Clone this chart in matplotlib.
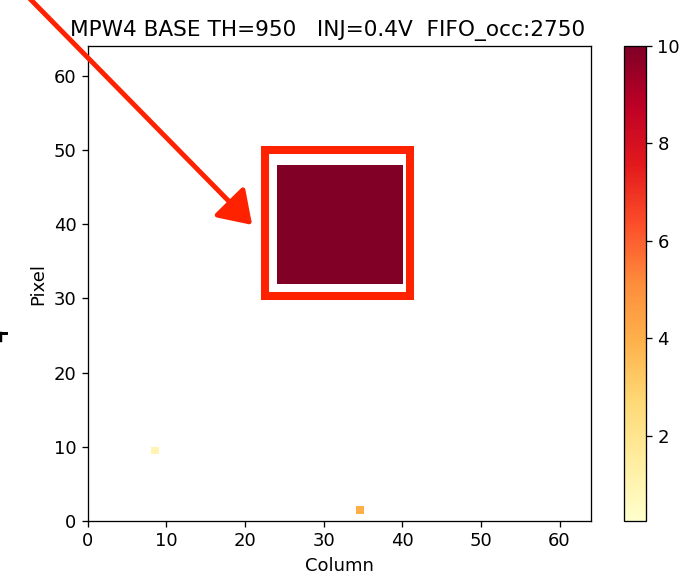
import numpy as np
import matplotlib
matplotlib.use("Agg")
import matplotlib.pyplot as plt
from matplotlib.patches import Rectangle

# hit map: 64 columns x 64 pixels, zeros are shown empty
n_cols, n_rows = 64, 64
block_cols = (24, 40)   # injected block, column range
block_rows = (32, 48)   # injected block, pixel range
block_value = 10
stray_hits = [(8, 9, 1.0), (34, 1, 4.0)]   # (column, pixel, value)
vmin, vmax = 0.25, 10
cbar_ticks = [2, 4, 6, 8, 10]

title = "MPW4 BASE TH=950   INJ=0.4V  FIFO_occ:2750"

hits = np.zeros((n_rows, n_cols))
hits[block_rows[0]:block_rows[1], block_cols[0]:block_cols[1]] = block_value
for c, r, v in stray_hits:
    hits[r, c] = v
hits = np.ma.masked_equal(hits, 0)

plt.rcParams["font.size"] = 11
dpi = 118
fig = plt.figure(figsize=(686 / dpi, 576 / dpi), dpi=dpi)
ax = fig.add_axes([0.128, 0.0955, 0.7335, 0.8245])
cax = fig.add_axes([0.9096, 0.0955, 0.032, 0.8245])

im = ax.imshow(hits, cmap="YlOrRd", origin="lower", aspect="auto",
               extent=(0, n_cols, 0, n_rows), vmin=vmin, vmax=vmax,
               interpolation="nearest")
ax.set_xlim(0, n_cols)
ax.set_ylim(0, n_rows)
ax.set_xticks(range(0, 61, 10))
ax.set_yticks(range(0, 61, 10))
ax.set_xlabel("Column")
ax.set_ylabel("Pixel")
ax.set_title(title, fontsize=13.2, x=0.477)

cb = fig.colorbar(im, cax=cax)
cb.set_ticks(cbar_ticks)

# red highlight around the injected block
ax.add_patch(Rectangle((22.5, 30.3), 18.5, 19.7, fill=False,
                       edgecolor="#ff2200", linewidth=4.9, clip_on=False))
ax.annotate("", xy=(20.9, 39.9), xycoords="data",
            xytext=(0.0, 1.055), textcoords="figure fraction",
            arrowprops=dict(arrowstyle="-|>,head_length=1.5,head_width=1.0",
                            color="#ff2200", lw=3.0, shrinkA=0, shrinkB=0),
            annotation_clip=False)

# cropped mark at left edge
fig.add_artist(plt.Line2D([0.0, 0.009], [0.422, 0.422], color="black",
                          lw=1.8, transform=fig.transFigure))
fig.add_artist(plt.Line2D([0.002, 0.002], [0.422, 0.408], color="black",
                          lw=1.5, transform=fig.transFigure))

fig.savefig("out.png", dpi=dpi)
